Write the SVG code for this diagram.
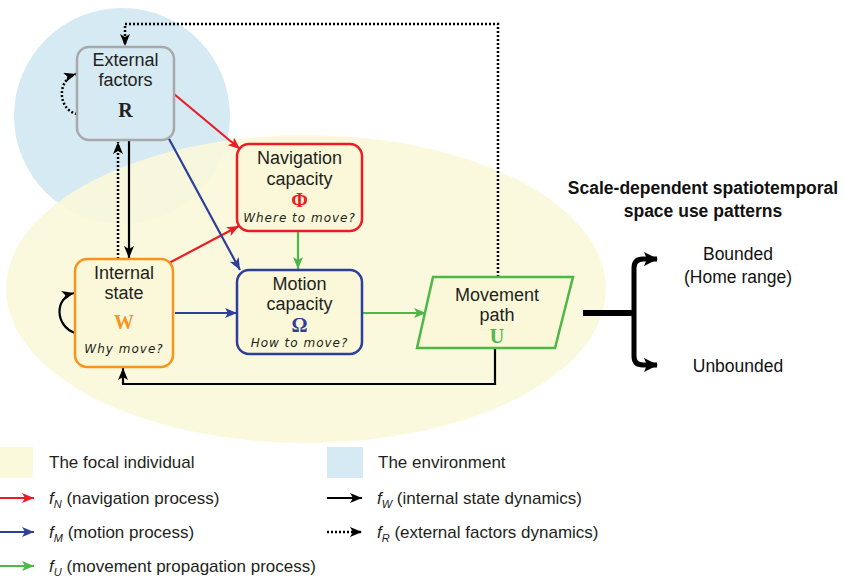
<svg xmlns="http://www.w3.org/2000/svg" width="845" height="579" viewBox="0 0 845 579">
<defs>
<style>
.lbl{font-family:"Liberation Sans",Arial,sans-serif;font-size:18px;fill:#231f20;text-anchor:middle}
.sym{font-family:"Liberation Serif","Times New Roman",serif;font-size:20px;font-weight:bold;text-anchor:middle}
.q{font-family:"DejaVu Sans",sans-serif;font-size:12px;font-style:italic;letter-spacing:1px;fill:#231f20;text-anchor:middle}
.leg{font-family:"Liberation Sans",Arial,sans-serif;font-size:17px;fill:#231f20}
.rt{font-family:"Liberation Sans",Arial,sans-serif;font-size:17.5px;fill:#111;text-anchor:middle}
.node{stroke-width:2.5}
.c{fill:none;stroke-width:2.2}
.dot{stroke-dasharray:2 2;stroke-width:2.5}
</style>
<marker id="aK" markerUnits="userSpaceOnUse" markerWidth="12" markerHeight="10" refX="12" refY="5" orient="auto"><path d="M0,0 L12,5 L0,10 L3,5 Z" fill="#000"/></marker>
<marker id="aR" markerUnits="userSpaceOnUse" markerWidth="12" markerHeight="10" refX="12" refY="5" orient="auto"><path d="M0,0 L12,5 L0,10 L3,5 Z" fill="#ec1c24"/></marker>
<marker id="aB" markerUnits="userSpaceOnUse" markerWidth="12" markerHeight="10" refX="12" refY="5" orient="auto"><path d="M0,0 L12,5 L0,10 L3,5 Z" fill="#2e3f9b"/></marker>
<marker id="aG" markerUnits="userSpaceOnUse" markerWidth="12" markerHeight="10" refX="12" refY="5" orient="auto"><path d="M0,0 L12,5 L0,10 L3,5 Z" fill="#4db848"/></marker>
<marker id="aT" markerUnits="userSpaceOnUse" markerWidth="14" markerHeight="14" refX="13" refY="7" orient="auto-start-reverse"><path d="M0,0 L14,7 L0,14 L3,7 Z" fill="#000"/></marker>
</defs>
<rect width="845" height="579" fill="#fff"/>
<g id="environment"><circle cx="122" cy="116" r="108" fill="#d5eaf3"/></g>
<g id="focal-individual"><ellipse cx="306" cy="289" rx="300" ry="154" fill="#faf8d8" fill-opacity="0.88"/></g>

<g id="connectors">
<path class="c" d="M174,94 L240,149" stroke="#ec1c24" marker-end="url(#aR)"/>
<path class="c" d="M169,263 L239,226" stroke="#ec1c24" marker-end="url(#aR)"/>
<path class="c" d="M168,137 L240,270" stroke="#2e3f9b" marker-end="url(#aB)"/>
<path class="c" d="M175,313 L237,313" stroke="#2e3f9b" marker-end="url(#aB)"/>
<path class="c" d="M298,232 L298,269" stroke="#4db848" marker-end="url(#aG)"/>
<path class="c" d="M363,313 L426,313" stroke="#4db848" marker-end="url(#aG)"/>
<path class="c" d="M129,141 L129,258" stroke="#000" marker-end="url(#aK)"/>
<path class="c dot" d="M118,259 L118,142" stroke="#000" marker-end="url(#aK)"/>
<path class="c dot" d="M498,277 V24 H125 V46" stroke="#000" marker-end="url(#aK)"/>
<path class="c dot" d="M77,114 C58,110 56,80 76,74" stroke="#000" marker-end="url(#aK)"/>
<path class="c" d="M75,333 C55,326 54,298 74,293" stroke="#000" marker-end="url(#aK)"/>
<path class="c" d="M495,349 V384 H123 V368" stroke="#000" marker-end="url(#aK)"/>
<path d="M583,313 H634" fill="none" stroke="#000" stroke-width="6"/>
<path d="M657,259 H643 Q634,259 634,268 V356 Q634,365 643,365 H657" fill="none" stroke="#000" stroke-width="5" marker-start="url(#aT)" marker-end="url(#aT)"/>
</g>

<g id="external-factors">
<rect class="node" x="77" y="47" width="97" height="93" rx="12" fill="#d5eaf3" stroke="#a9a9a9"/>
<text class="lbl" x="125.5" y="66">External</text>
<text class="lbl" x="125.5" y="86">factors</text>
<text class="sym" x="125.5" y="117" fill="#231f20">R</text>
</g>
<g id="navigation-capacity">
<rect class="node" x="237" y="144" width="125" height="87" rx="12" fill="#faf8d8" stroke="#ec1c24"/>
<text class="lbl" x="299.5" y="164">Navigation</text>
<text class="lbl" x="299.5" y="185">capacity</text>
<text class="sym" x="299.5" y="207" fill="#ec1c24">Φ</text>
<text class="q" x="299.5" y="222">Where to move?</text>
</g>
<g id="motion-capacity">
<rect class="node" x="237" y="270" width="125" height="84" rx="12" fill="#faf8d8" stroke="#2e3f9b"/>
<text class="lbl" x="299.5" y="290">Motion</text>
<text class="lbl" x="299.5" y="310">capacity</text>
<text class="sym" x="299.5" y="332" fill="#2e3f9b">Ω</text>
<text class="q" x="299.5" y="347">How to move?</text>
</g>
<g id="internal-state">
<rect class="node" x="75" y="259" width="98" height="108" rx="12" fill="#faf8d8" stroke="#f7941d"/>
<text class="lbl" x="124" y="279">Internal</text>
<text class="lbl" x="124" y="299">state</text>
<text class="sym" x="124" y="329" fill="#f7941d">W</text>
<text class="q" x="124" y="353">Why move?</text>
</g>
<g id="movement-path">
<polygon class="node" points="433,277 573,277 555,348 417,348" fill="#faf8d8" stroke="#4db848"/>
<text class="lbl" x="497" y="301">Movement</text>
<text class="lbl" x="497" y="321">path</text>
<text class="sym" x="497" y="343" fill="#4db848">U</text>
</g>

<g id="patterns">
<text class="rt" x="703" y="194" font-weight="bold" font-size="18">Scale-dependent spatiotemporal</text>
<text class="rt" x="703" y="217" font-weight="bold" font-size="18">space use patterns</text>
<text class="rt" x="738" y="260">Bounded</text>
<text class="rt" x="738" y="283">(Home range)</text>
<text class="rt" x="738" y="372">Unbounded</text>
</g>

<g id="legend">
<rect x="0" y="447" width="33" height="31" fill="#fbf9dc"/>
<text class="leg" x="49" y="468">The focal individual</text>
<rect x="327" y="447" width="36" height="31" fill="#d5eaf3"/>
<text class="leg" x="378" y="468">The environment</text>
<path class="c" d="M0,498 H34" stroke="#ec1c24" marker-end="url(#aR)"/>
<path class="c" d="M0,532 H34" stroke="#2e3f9b" marker-end="url(#aB)"/>
<path class="c" d="M0,566 H34" stroke="#4db848" marker-end="url(#aG)"/>
<path class="c" d="M327,498 H362" stroke="#000" marker-end="url(#aK)"/>
<path class="c dot" d="M327,532 H362" stroke="#000" marker-end="url(#aK)"/>
<text class="leg" x="49" y="504"><tspan font-style="italic">f</tspan><tspan font-style="italic" font-size="11" dy="4">N</tspan><tspan dy="-4"> (navigation process)</tspan></text>
<text class="leg" x="49" y="538"><tspan font-style="italic">f</tspan><tspan font-style="italic" font-size="11" dy="4">M</tspan><tspan dy="-4"> (motion process)</tspan></text>
<text class="leg" x="49" y="572"><tspan font-style="italic">f</tspan><tspan font-style="italic" font-size="11" dy="4">U</tspan><tspan dy="-4"> (movement propagation process)</tspan></text>
<text class="leg" x="377" y="504"><tspan font-style="italic">f</tspan><tspan font-style="italic" font-size="11" dy="4">W</tspan><tspan dy="-4"> (internal state dynamics)</tspan></text>
<text class="leg" x="377" y="538"><tspan font-style="italic">f</tspan><tspan font-style="italic" font-size="11" dy="4">R</tspan><tspan dy="-4"> (external factors dynamics)</tspan></text>
</g>
</svg>
